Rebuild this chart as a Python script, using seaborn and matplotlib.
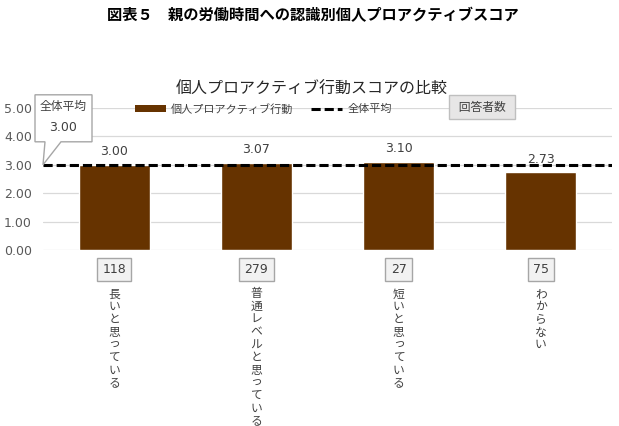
import numpy as np
import pandas as pd
import matplotlib
matplotlib.use('Agg')
import matplotlib.pyplot as plt
import matplotlib.transforms as mtransforms
from matplotlib.patches import Patch, Polygon
from matplotlib.lines import Line2D
import seaborn as sns

# data
categories = ['長いと思っている', '普通レベルと思っている', '短いと思っている', 'わからない']
scores = [3.00, 3.07, 3.10, 2.73]
counts = [118, 279, 27, 75]
overall_mean = 3.00
yticks = [0, 1, 2, 3, 4, 5]

bar_color = '#663300'
grid_color = '#d9d9d9'
text_color = '#404040'

sns.set_theme(style='white')
plt.rcParams['font.family'] = ['DejaVu Sans', 'Noto Sans CJK JP']

df = pd.DataFrame({'category': categories, 'score': scores})

fig = plt.figure(figsize=(6.19, 4.26), dpi=100)
ax = fig.add_axes([43 / 619, 1 - 250 / 426, (612 - 43) / 619, (250 - 108) / 426])

sns.barplot(data=df, x='category', y='score', color=bar_color, saturation=1,
            width=0.5, ax=ax, zorder=2)

ax.set_ylim(0, 5)
ax.set_xlim(-0.5, len(categories) - 0.5)
ax.set_yticks(yticks)
ax.set_yticklabels([f'{v:.2f}' for v in yticks], fontsize=9, color='#595959')
ax.yaxis.grid(True, color=grid_color, lw=0.9, zorder=0)
ax.set_axisbelow(True)
for s in ax.spines.values():
    s.set_visible(False)
ax.tick_params(axis='y', length=0, pad=8)
ax.set_xlabel('')
ax.set_ylabel('')

# vertical (stacked) category labels
ax.set_xticks(range(len(categories)))
ax.set_xticklabels(['\n'.join(c) for c in categories], fontsize=8.5,
                   color=text_color, linespacing=0.97)
ax.tick_params(axis='x', length=0, pad=27)

# value labels
ax.bar_label(ax.containers[0], fmt='%.2f', padding=5, fontsize=9, color=text_color)

# overall mean dashed line
ax.axhline(overall_mean, color='black', lw=2.2, ls=(0, (3, 1.3)), zorder=3)

# count boxes under each bar
for i, n in enumerate(counts):
    ax.annotate(str(n), xy=(i, 0), xytext=(0, -14), textcoords='offset points',
                ha='center', va='center', fontsize=9, color=text_color,
                annotation_clip=False,
                bbox=dict(boxstyle='square,pad=0.42', fc='#f2f2f2', ec='#a6a6a6', lw=1))

# callout for overall mean
trans = fig.dpi_scale_trans + mtransforms.ScaledTranslation(-0.5, overall_mean, ax.transData)
pts = np.array([(-8, 23), (2, 23), (0, 0), (18, 23), (49, 23), (49, 70), (-8, 70)]) / 100
ax.add_patch(Polygon(pts, closed=True, transform=trans, fc='white', ec='#a6a6a6',
                     lw=1, clip_on=False, zorder=5))
ax.text(0.205, 0.58, '全体平均', transform=trans, ha='center', va='center',
        fontsize=8.5, color=text_color, zorder=6)
ax.text(0.205, 0.37, f'{overall_mean:.2f}', transform=trans, ha='center', va='center',
        fontsize=9, color=text_color, zorder=6)

# legend
handles = [Patch(fc=bar_color, ec='none', label='個人プロアクティブ行動'),
           Line2D([], [], color='black', lw=2.2, ls=(0, (3, 1.3)), label='全体平均')]
fig.legend(handles=handles, loc='center left', bbox_to_anchor=(135 / 619, 1 - 109 / 426),
           ncol=2, frameon=False, fontsize=8, handlelength=2.8, handleheight=0.5,
           handletextpad=0.45, columnspacing=1.6, borderpad=0, borderaxespad=0,
           labelcolor=text_color)
fig.text(482 / 619, 1 - 107 / 426, ' 回答者数 ', ha='center', va='center', fontsize=8.5,
         color=text_color,
         bbox=dict(boxstyle='square,pad=0.45', fc='#e7e6e6', ec='#bfbfbf', lw=1))

# titles
fig.text(312 / 619, 1 - 89 / 426, '個人プロアクティブ行動スコアの比較', ha='center',
         va='center', fontsize=11.5, color='#262626')
fig.text(313 / 619, 1 - 16 / 426, '図表５　親の労働時間への認識別個人プロアクティブスコア',
         ha='center', va='center', fontsize=11, fontweight='bold', color='black')

fig.savefig('out.png', dpi=100)
